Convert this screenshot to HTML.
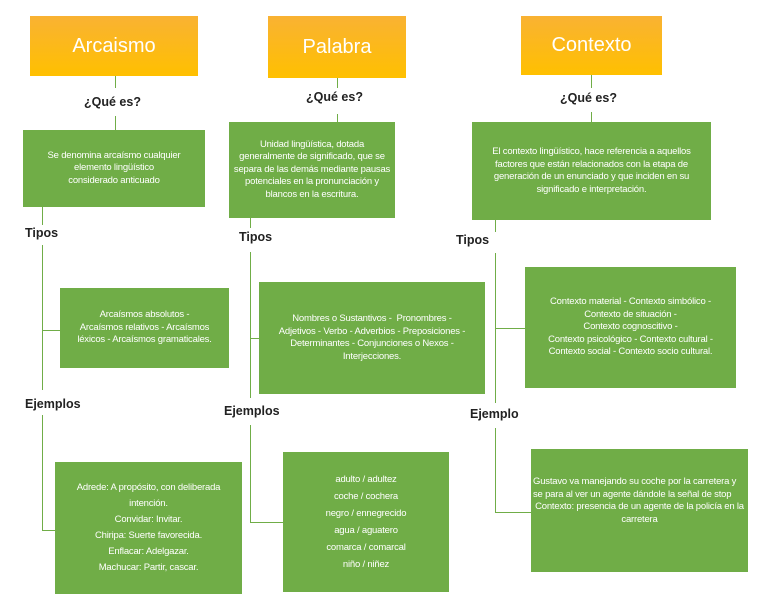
<!DOCTYPE html>
<html><head><meta charset="utf-8"><style>
body{margin:0;width:768px;height:594px;background:#fff;position:relative;overflow:hidden;font-family:"Liberation Sans",sans-serif}
.o{position:absolute;background:linear-gradient(#f9b233,#ffc000);color:#fff;font-size:20px;display:flex;align-items:center;justify-content:center}
.g{position:absolute;background:#70ad47;color:#fff;font-size:9.5px;letter-spacing:-0.2px;line-height:12.5px;display:flex;align-items:center;justify-content:center;text-align:center;box-sizing:border-box;padding:4px}
.l{position:absolute;background:#70ad47}
.t{position:absolute;font-size:12.5px;font-weight:bold;color:#222}
</style></head><body>
<div class="o" style="left:30px;top:16px;width:168px;height:60px">Arcaismo</div>
<div class="o" style="left:268px;top:16px;width:138px;height:62px">Palabra</div>
<div class="o" style="left:521px;top:16px;width:141px;height:59px">Contexto</div>

<!-- Arcaismo -->
<div class="l" style="left:115px;top:76px;width:1px;height:12px"></div>
<div class="t" style="left:84px;top:95px">¿Qué es?</div>
<div class="l" style="left:115px;top:116px;width:1px;height:14px"></div>
<div class="g" style="left:23px;top:130px;width:182px;height:77px">Se denomina arcaísmo cualquier<br>elemento lingüístico<br>considerado anticuado</div>
<div class="l" style="left:42px;top:207px;width:1px;height:18px"></div>
<div class="t" style="left:25px;top:226px">Tipos</div>
<div class="l" style="left:42px;top:245px;width:1px;height:145px"></div>
<div class="l" style="left:42px;top:330px;width:18px;height:1px"></div>
<div class="g" style="left:60px;top:288px;width:169px;height:80px">Arcaísmos absolutos -<br>Arcaísmos relativos - Arcaísmos<br>léxicos - Arcaísmos gramaticales.</div>
<div class="t" style="left:25px;top:397px">Ejemplos</div>
<div class="l" style="left:42px;top:415px;width:1px;height:116px"></div>
<div class="l" style="left:42px;top:530px;width:13px;height:1px"></div>
<div class="g" style="left:55px;top:462px;width:187px;height:132px;line-height:16px">Adrede: A propósito, con deliberada<br>intención.<br>Convidar: Invitar.<br>Chiripa: Suerte favorecida.<br>Enflacar: Adelgazar.<br>Machucar: Partir, cascar.</div>

<!-- Palabra -->
<div class="l" style="left:337px;top:78px;width:1px;height:10px"></div>
<div class="t" style="left:306px;top:90px">¿Qué es?</div>
<div class="l" style="left:337px;top:114px;width:1px;height:8px"></div>
<div class="g" style="left:229px;top:122px;width:166px;height:96px">Unidad lingüística, dotada generalmente de significado, que se separa de las demás mediante pausas potenciales en la pronunciación y blancos en la escritura.</div>
<div class="l" style="left:250px;top:218px;width:1px;height:10px"></div>
<div class="t" style="left:239px;top:230px">Tipos</div>
<div class="l" style="left:250px;top:252px;width:1px;height:146px"></div>
<div class="l" style="left:250px;top:338px;width:9px;height:1px"></div>
<div class="g" style="left:259px;top:282px;width:226px;height:112px">Nombres o Sustantivos -&nbsp; Pronombres -<br>Adjetivos - Verbo - Adverbios - Preposiciones -<br>Determinantes - Conjunciones o Nexos -<br>Interjecciones.</div>
<div class="t" style="left:224px;top:404px">Ejemplos</div>
<div class="l" style="left:250px;top:425px;width:1px;height:98px"></div>
<div class="l" style="left:250px;top:522px;width:33px;height:1px"></div>
<div class="g" style="left:283px;top:452px;width:166px;height:140px;line-height:17px">adulto / adultez<br>coche / cochera<br>negro / ennegrecido<br>agua / aguatero<br>comarca / comarcal<br>niño / niñez</div>

<!-- Contexto -->
<div class="l" style="left:591px;top:75px;width:1px;height:13px"></div>
<div class="t" style="left:560px;top:91px">¿Qué es?</div>
<div class="l" style="left:591px;top:112px;width:1px;height:10px"></div>
<div class="g" style="left:472px;top:122px;width:239px;height:98px">El contexto lingüístico, hace referencia a aquellos factores que están relacionados con la etapa de generación de un enunciado y que inciden en su significado e interpretación.</div>
<div class="l" style="left:495px;top:220px;width:1px;height:12px"></div>
<div class="t" style="left:456px;top:233px">Tipos</div>
<div class="l" style="left:495px;top:253px;width:1px;height:150px"></div>
<div class="l" style="left:495px;top:328px;width:30px;height:1px"></div>
<div class="g" style="left:525px;top:267px;width:211px;height:121px">Contexto material - Contexto simbólico -<br>Contexto de situación -<br>Contexto cognoscitivo -<br>Contexto psicológico - Contexto cultural -<br>Contexto social - Contexto socio cultural.</div>
<div class="t" style="left:470px;top:407px">Ejemplo</div>
<div class="l" style="left:495px;top:428px;width:1px;height:85px"></div>
<div class="l" style="left:495px;top:512px;width:36px;height:1px"></div>
<div class="g" style="left:531px;top:449px;width:217px;height:123px;padding:4px 2px;display:block;padding-top:27px;text-align:left">Gustavo va manejando su coche por la carretera y se para al ver un agente dándole la señal de stop<div style="text-align:center">Contexto: presencia de un agente de la policía en la carretera</div></div>
</body></html>
